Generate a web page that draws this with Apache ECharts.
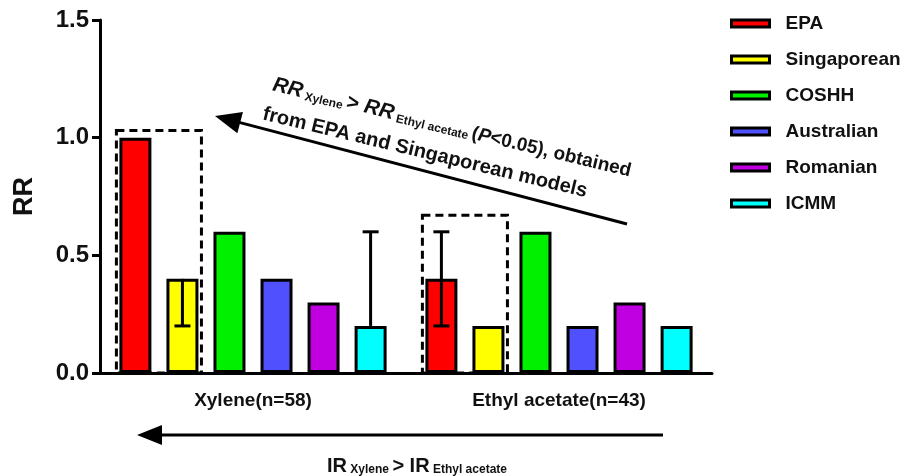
<!DOCTYPE html>
<html><head><meta charset="utf-8">
<script src="https://cdn.jsdelivr.net/npm/echarts@6/dist/echarts.min.js"></script>
<style>html,body{margin:0;padding:0;background:#fff}#c{width:906px;height:476px}</style>
</head><body><div id="c"></div>
<script>
// ---- data ----
const categories = ['Xylene(n=58)', 'Ethyl acetate(n=43)'];
const models = ['EPA', 'Singaporean', 'COSHH', 'Australian', 'Romanian', 'ICMM'];
const EPA = [1.0, 0.4];
const Singaporean = [0.4, 0.2];
const COSHH = [0.6, 0.6];
const Australian = [0.4, 0.2];
const Romanian = [0.3, 0.3];
const ICMM = [0.2, 0.2];
const yTicks = [0, 0.5, 1.0, 1.5];
// error bars: [categoryIndex, modelIndex, low, high]
const errorBars = [[0, 1, 0.2, 0.4], [0, 5, 0.2, 0.6], [1, 0, 0.2, 0.6]];
// highlight boxes: [categoryIndex, firstModel, lastModel, topValue]
const boxes = [[0, 0, 1, 1.03], [1, 0, 1, 0.67]];

// ---- styles ----
const values = [EPA, Singaporean, COSHH, Australian, Romanian, ICMM];
const colors = ['#ff0000', '#ffff00', '#00f000', '#5050ff', '#c000e0', '#00ffff'];
const FONT = '"Liberation Sans", Arial, sans-serif';
const BAR_W = 32, BAR_GAP = 0.47;

function barCenter(api, cat, m) {
  const c = api.coord([cat, 0]);
  return c[0] + (m - (models.length - 1) / 2) * BAR_W * (1 + BAR_GAP);
}

const chart = echarts.init(document.getElementById('c'));

const series = models.map((name, i) => ({
  name, type: 'bar', data: values[i], barWidth: BAR_W, barGap: (BAR_GAP * 100) + '%',
  itemStyle: { color: colors[i], borderColor: '#000', borderWidth: 3 },
  emphasis: { disabled: true }, z: 2
}));

series.push({
  type: 'custom', name: 'err', data: errorBars, encode: { x: 0, y: [2, 3] }, z: 5,
  renderItem(params, api) {
    const cat = api.value(0), m = api.value(1), lo = api.value(2), hi = api.value(3);
    const v = values[m][cat];
    const x = barCenter(api, cat, m);
    const yLo = api.coord([cat, lo])[1], yHi = api.coord([cat, hi])[1];
    const st = { stroke: '#000', lineWidth: 3 };
    const ch = [{ type: 'line', shape: { x1: x, y1: yLo, x2: x, y2: yHi }, style: st }];
    if (lo < v) ch.push({ type: 'line', shape: { x1: x - 8, y1: yLo, x2: x + 8, y2: yLo }, style: st });
    if (hi > v) ch.push({ type: 'line', shape: { x1: x - 8, y1: yHi, x2: x + 8, y2: yHi }, style: st });
    return { type: 'group', children: ch };
  }
});

series.push({
  type: 'custom', name: 'box', data: boxes, encode: { x: 0, y: 3 }, z: 6,
  renderItem(params, api) {
    const cat = api.value(0), a = api.value(1), b = api.value(2), top = api.value(3);
    const x1 = barCenter(api, cat, a) - BAR_W / 2 - 3;
    const x2 = barCenter(api, cat, b) + BAR_W / 2 + 3;
    const y1 = api.coord([cat, top])[1], y0 = api.coord([cat, 0])[1];
    return {
      type: 'rect', shape: { x: x1, y: y1, width: x2 - x1, height: y0 - y1 },
      style: { fill: 'none', stroke: '#000', lineWidth: 3, lineDash: [8, 5] }
    };
  }
});

function arrow(tip, tail, headLen, headHalf) {
  const dx = tail[0] - tip[0], dy = tail[1] - tip[1];
  const L = Math.sqrt(dx * dx + dy * dy), ux = dx / L, uy = dy / L;
  const bx = tip[0] + ux * headLen, by = tip[1] + uy * headLen;
  return [
    { type: 'line', shape: { x1: bx - ux * 2, y1: by - uy * 2, x2: tail[0], y2: tail[1] }, style: { stroke: '#000', lineWidth: 3 } },
    { type: 'polygon', shape: { points: [tip, [bx - uy * headHalf, by + ux * headHalf], [bx + uy * headHalf, by - ux * headHalf]] }, style: { fill: '#000' } }
  ];
}

const ang = -13.5 * Math.PI / 180;
const richStyles = {
  b: { fontSize: 21, fontWeight: 'bold', fontStyle: 'italic', fontFamily: FONT, fill: '#111', verticalAlign: 'bottom' },
  g: { fontSize: 21, fontWeight: 'bold', fontFamily: FONT, fill: '#111', verticalAlign: 'bottom' },
  s: { fontSize: 12, fontWeight: 'bold', fontFamily: FONT, fill: '#111', verticalAlign: 'bottom' },
  m: { fontSize: 19, fontWeight: 'bold', fontFamily: FONT, fill: '#111', verticalAlign: 'bottom' },
  i: { fontSize: 19, fontWeight: 'bold', fontStyle: 'italic', fontFamily: FONT, fill: '#111', verticalAlign: 'bottom' }
};

const graphic = [].concat(
  arrow([215, 116], [627, 224], 26, 11),
  arrow([137, 435], [663, 435], 25, 10),
  [{
    type: 'group', x: 263, y: 114, rotation: ang,
    children: [
      { type: 'text', x: 3, y: -31, style: { text: '{b|RR}{s| Xylene }{g|> }{b|RR}{s| Ethyl acetate }{m|(}{i|P}{m|<0.05), obtained}', rich: richStyles, align: 'left', verticalAlign: 'middle' } },
      { type: 'text', x: 0, y: 0, style: { text: 'from EPA and Singaporean models', fontSize: 20, fontWeight: 'bold', fontFamily: FONT, fill: '#111', align: 'left', verticalAlign: 'middle' } }
    ]
  }, {
    type: 'text', x: 417, y: 466, style: {
      text: '{g|IR}{s| Xylene }{g|> IR}{s| Ethyl acetate}',
      rich: {
        g: { fontSize: 20, fontWeight: 'bold', fontFamily: FONT, fill: '#111', verticalAlign: 'bottom' },
        s: { fontSize: 12, fontWeight: 'bold', fontFamily: FONT, fill: '#111', verticalAlign: 'bottom' }
      },
      align: 'center', verticalAlign: 'middle'
    }
  }]
);

chart.setOption({
  animation: false,
  backgroundColor: '#fff',
  grid: { left: 100, right: 194, top: 20, bottom: 103 },
  legend: {
    orient: 'vertical', left: 725, top: 9, itemWidth: 38, itemHeight: 7, itemGap: 17,
    data: models, icon: 'rect',
    itemStyle: { borderColor: '#000', borderWidth: 3 },
    textStyle: { fontSize: 19, fontWeight: 'bold', color: '#111', fontFamily: FONT, lineHeight: 16, padding: [0, 0, 0, 11] },
    selectedMode: false
  },
  xAxis: {
    type: 'category', data: categories,
    axisLine: { lineStyle: { color: '#000', width: 3 } },
    axisTick: { alignWithLabel: true, length: 9, lineStyle: { color: '#000', width: 3 } },
    axisLabel: { fontSize: 19, fontWeight: 'bold', color: '#111', fontFamily: FONT, margin: 18 }
  },
  yAxis: {
    type: 'value', min: yTicks[0], max: yTicks[yTicks.length - 1], interval: yTicks[1] - yTicks[0],
    name: 'RR', nameLocation: 'middle', nameGap: 62,
    nameTextStyle: { fontSize: 27, fontWeight: 'bold', color: '#111', fontFamily: FONT },
    axisLine: { show: true, lineStyle: { color: '#000', width: 3 } },
    axisTick: { show: true, length: 8, lineStyle: { color: '#000', width: 3 } },
    axisLabel: { fontSize: 24, fontWeight: 'bold', color: '#111', fontFamily: FONT, margin: 11, formatter: v => v.toFixed(1) },
    splitLine: { show: false }
  },
  series,
  graphic
});
</script></body></html>
